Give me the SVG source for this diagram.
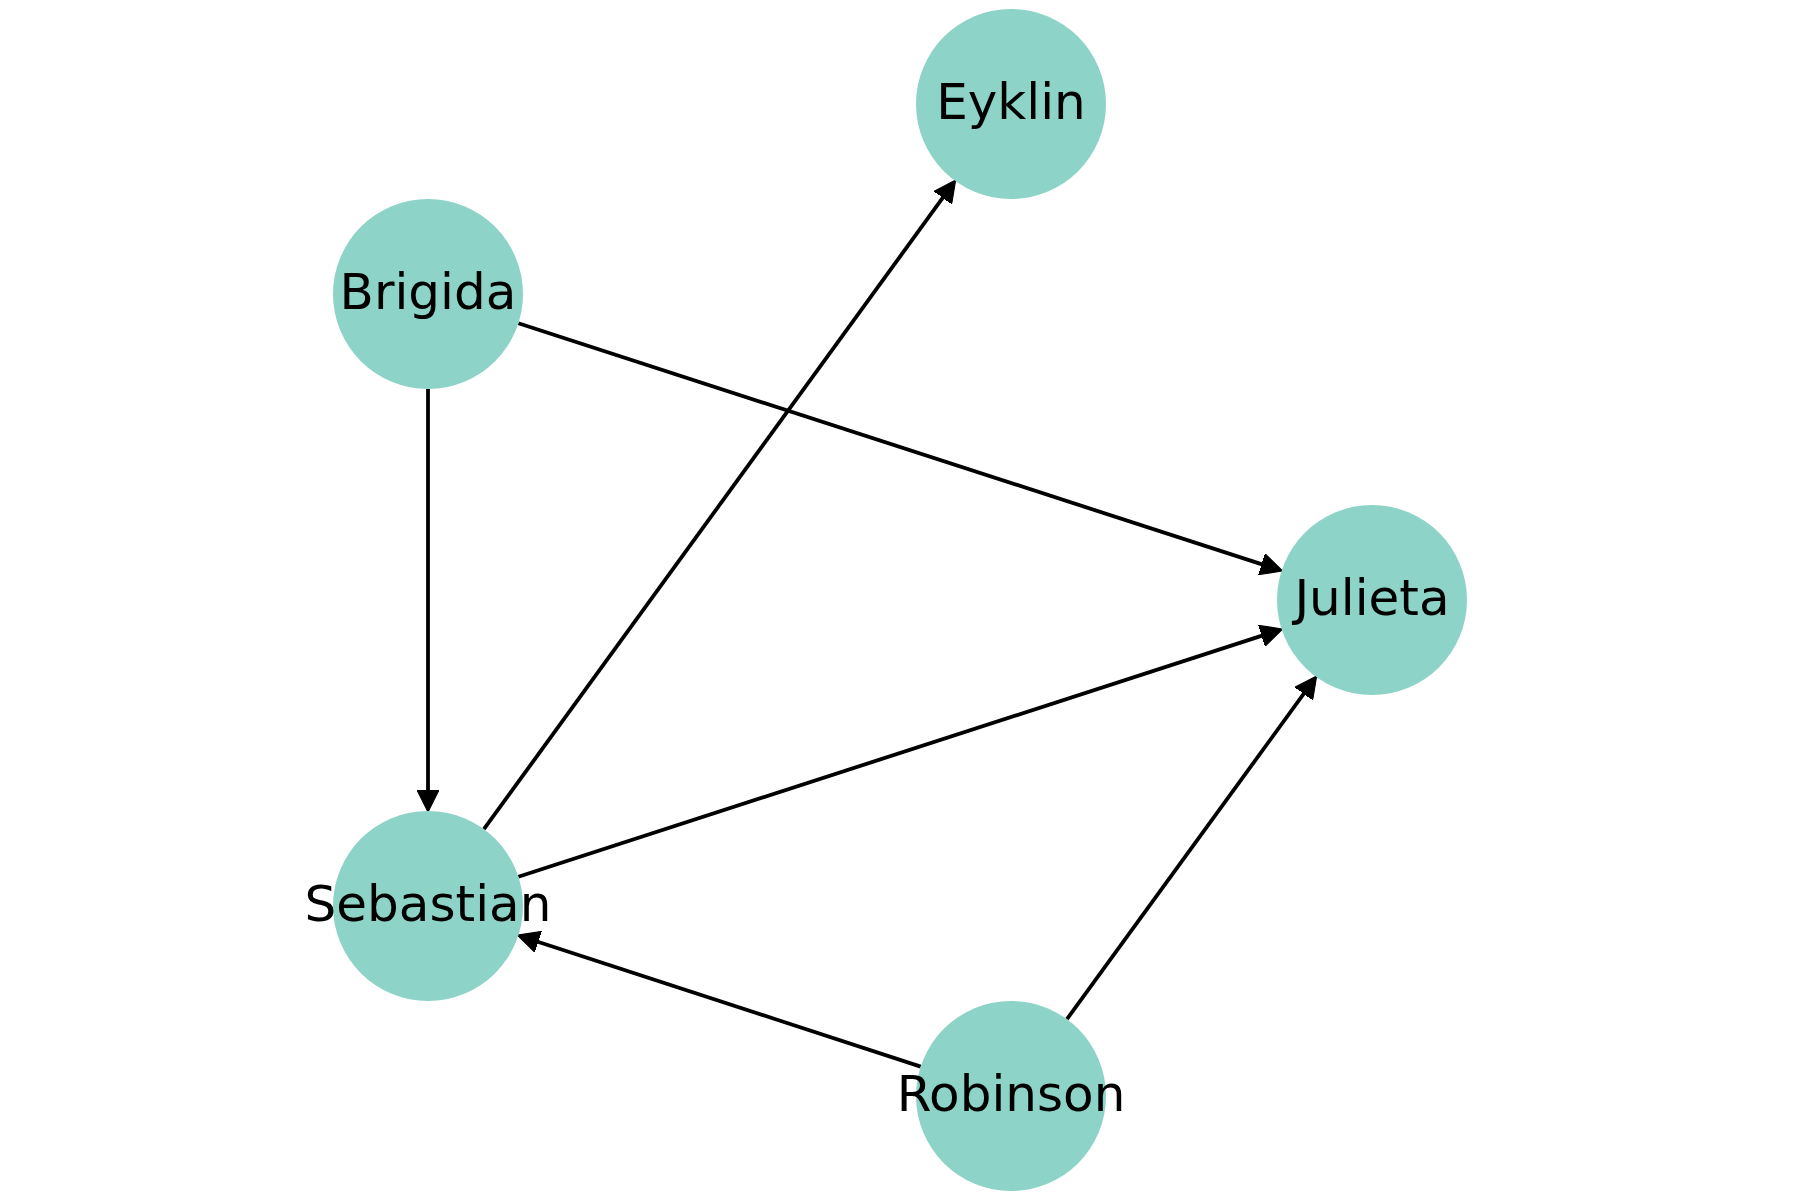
<svg xmlns="http://www.w3.org/2000/svg" width="1800" height="1200" viewBox="0 0 1800 1200">
<style>
.edge{stroke:#000;stroke-width:3.8;fill:none;marker-end:url(#arr)}
.node circle{fill:#8dd3c7}
.node text{font-family:"DejaVu Sans",sans-serif;font-size:50px;fill:#000;text-anchor:middle}
</style>
<defs>
<marker id="arr" markerUnits="userSpaceOnUse" markerWidth="22" markerHeight="22" refX="10" refY="10" orient="auto" viewBox="0 0 20 20">
<path d="M0,0 L20,10 L0,20 z" fill="#000" stroke="#000" stroke-width="1" stroke-linejoin="miter"/>
</marker>
</defs>
<rect width="1800" height="1200" fill="#fff"/>
<g id="edges">
<line class="edge" x1="428" y1="389" x2="428" y2="801"/>
<line class="edge" x1="518.4" y1="323.3" x2="1272.1" y2="567.6"/>
<line class="edge" x1="483.9" y1="829.2" x2="949.2" y2="188.9"/>
<line class="edge" x1="518.4" y1="876.7" x2="1272.1" y2="632.4"/>
<line class="edge" x1="920.7" y1="1066.6" x2="527.8" y2="938.5"/>
<line class="edge" x1="1066.9" y1="1019.2" x2="1310.2" y2="684.9"/>
</g>
<g id="node-Eyklin" class="node"><circle cx="1011" cy="104" r="95"/><text x="1011" y="118.5">Eyklin</text></g>
<g id="node-Brigida" class="node"><circle cx="428" cy="294" r="95"/><text x="428" y="308.5">Brigida</text></g>
<g id="node-Julieta" class="node"><circle cx="1372" cy="600" r="95"/><text x="1372" y="614.5">Julieta</text></g>
<g id="node-Sebastian" class="node"><circle cx="428" cy="906" r="95"/><text x="428" y="921">Sebastian</text></g>
<g id="node-Robinson" class="node"><circle cx="1011" cy="1096" r="95"/><text x="1011" y="1110.5">Robinson</text></g>
</svg>
